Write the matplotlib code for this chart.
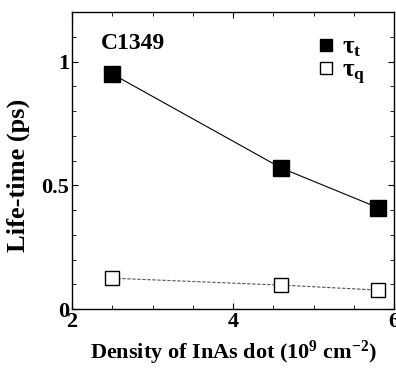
import matplotlib
matplotlib.use("Agg")
import matplotlib.pyplot as plt
from matplotlib.lines import Line2D
from matplotlib.ticker import MultipleLocator

# data
density = [2.5, 4.6, 5.8]
tau_t = [0.95, 0.57, 0.41]
tau_q = [0.125, 0.097, 0.077]

plt.rcParams['font.family'] = ['Liberation Serif', 'DejaVu Serif']
plt.rcParams['font.weight'] = 'bold'
plt.rcParams['mathtext.fontset'] = 'custom'
plt.rcParams['mathtext.rm'] = 'Liberation Serif:bold'
plt.rcParams['mathtext.it'] = 'Liberation Serif:bold'
plt.rcParams['mathtext.bf'] = 'Liberation Serif:bold'

fig = plt.figure(figsize=(3.96, 3.68), dpi=100)
ax = fig.add_axes([0.182, 0.160, 0.813, 0.807])

ax.plot(density, tau_t, '-', color='black', lw=0.8, marker='s', ms=11,
        mfc='black', mec='black')
ax.plot(density, tau_q, '--', color='#555555', lw=0.8, dashes=(3, 1.5), marker='s', ms=10,
        mfc='white', mec='black', mew=1.0)

ax.set_xlim(2, 6)
ax.set_ylim(0, 1.2)
ax.set_xticks([2, 4, 6])
ax.set_yticks([0, 0.5, 1])
ax.set_yticklabels(['0', '0.5', '1'])
ax.xaxis.set_minor_locator(MultipleLocator(0.5))
ax.yaxis.set_minor_locator(MultipleLocator(0.1))
ax.tick_params(which='both', direction='in', top=True, right=True, labelsize=16)
ax.tick_params(which='major', length=4, pad=2)
ax.tick_params(which='minor', length=3)
for s in ax.spines.values():
    s.set_linewidth(1.0)

ax.set_xlabel(r'Density of InAs dot (10$^{9}$ cm$^{-2}$)', fontsize=16, fontweight='bold', labelpad=5)
ax.set_ylabel('Life-time (ps)', fontsize=19, fontweight='bold')
ax.yaxis.set_label_coords(-0.13, 0.45)

ax.text(0.09, 0.875, 'C1349', transform=ax.transAxes, fontsize=17, fontweight='bold')

handles = [
    Line2D([], [], ls='none', marker='s', ms=9, mfc='black', mec='black'),
    Line2D([], [], ls='none', marker='s', ms=9, mfc='white', mec='black', mew=1.0),
]
ax.legend(handles, [r'$\mathbf{\tau_t}$', r'$\mathbf{\tau_q}$'], loc='upper left',
          bbox_to_anchor=(0.735, 0.955), frameon=False, handlelength=0.6, fontsize=18,
          borderaxespad=0.0, labelspacing=0.0, handletextpad=0.35)

fig.savefig('out.png', dpi=100)
